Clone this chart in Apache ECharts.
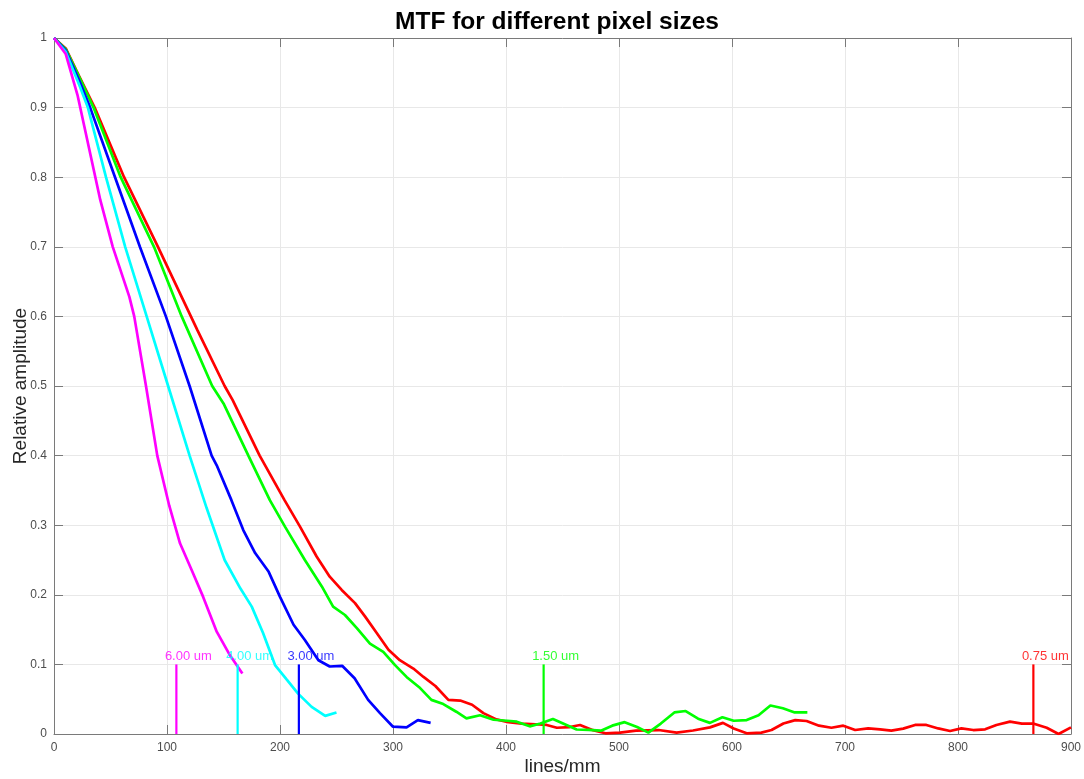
<!DOCTYPE html>
<html>
<head>
<meta charset="utf-8">
<script src="https://cdn.jsdelivr.net/npm/echarts@6/dist/echarts.min.js"></script>
<style>
html,body{margin:0;padding:0;background:#fff;}
#chart{width:1084px;height:779px;}
</style>
</head>
<body>
<div id="chart"></div>
<script>
// ---- data ----
const xTicks = [0,100,200,300,400,500,600,700,800,900];
const yTicks = [0,0.1,0.2,0.3,0.4,0.5,0.6,0.7,0.8,0.9,1];

const mtf600 = [[0,1],[10.4,0.977],[20.8,0.918],[41,0.767],[52,0.70],[66.7,0.628],[71,0.60],[81.4,0.50],[91.4,0.40],[102,0.328],[111.5,0.274],[122,0.235],[132,0.197],[144,0.147],[155,0.115],[166.7,0.087]];

const mtf400 = [[0,1],[10.4,0.98],[23,0.93],[30,0.90],[46,0.80],[63,0.70],[82,0.60],[101,0.50],[120,0.40],[135,0.325],[151,0.25],[165,0.209],[175,0.183],[185,0.145],[195.6,0.099],[206,0.078],[216,0.058],[228,0.039],[240,0.026],[250,0.031]];

const mtf300 = [[0,1],[10.4,0.982],[22,0.94],[32,0.90],[54,0.80],[76,0.70],[99,0.60],[120,0.50],[139.5,0.40],[144,0.386],[157,0.336],[167.5,0.293],[178,0.26],[190,0.233],[200,0.197],[212,0.157],[222,0.135],[234,0.106],[244,0.097],[255,0.098],[266,0.080],[278,0.049],[288.5,0.030],[300,0.0105],[312,0.0096],[322,0.020],[333.3,0.016]];

const mtf150 = [[0,1],[10.4,0.984],[22,0.945],[35,0.90],[59,0.80],[88.5,0.70],[113,0.60],[140,0.50],[150,0.475],[172,0.40],[191,0.336],[204.4,0.298],[222,0.25],[237,0.212],[247,0.183],[257.5,0.171],[268,0.152],[279.6,0.130],[291.4,0.118],[301.8,0.099],[312,0.082],[324,0.066],[334,0.049],[344.5,0.043],[356,0.032],[365,0.0225],[377,0.027],[389,0.0205],[401,0.019],[409.5,0.0177],[421,0.011],[430.5,0.015],[441.5,0.0215],[452,0.014],[462.5,0.0065],[473,0.006],[484,0.0048],[494,0.012],[505,0.017],[516,0.01],[526,0.002],[537,0.015],[549,0.031],[559,0.033],[570,0.022],[580.5,0.016],[591.5,0.024],[601.5,0.019],[613,0.020],[623.5,0.027],[634,0.041],[645,0.037],[655.5,0.031],[666.7,0.031]];

const mtf075 = [[0,1],[10.4,0.985],[22,0.946],[36,0.90],[62,0.80],[92,0.70],[127,0.58],[151,0.50],[158,0.48],[182,0.40],[204,0.336],[217.7,0.298],[232.4,0.255],[244,0.226],[254.6,0.207],[266.4,0.188],[275.2,0.169],[285.6,0.145],[296,0.121],[306,0.106],[318,0.094],[327,0.082],[337.5,0.069],[349,0.049],[359.5,0.048],[370,0.042],[380,0.030],[391.5,0.021],[402,0.017],[414,0.015],[426,0.014],[436,0.013],[445,0.009],[456.5,0.010],[465.5,0.013],[477,0.0055],[488,0.001],[501,0.002],[515,0.0048],[535,0.0057],[551,0.002],[565.5,0.005],[580.5,0.0095],[592,0.016],[601.5,0.008],[613,0.001],[626,0.002],[635,0.0057],[645.5,0.015],[656,0.020],[666,0.0187],[677,0.012],[688,0.009],[698.5,0.012],[709,0.0057],[720.5,0.008],[731,0.0067],[741,0.0048],[751.5,0.0077],[762,0.013],[772,0.013],[782.5,0.008],[793,0.0043],[803,0.008],[813.5,0.0057],[824,0.0067],[834,0.013],[846,0.0177],[856.5,0.015],[866.5,0.015],[878.5,0.009],[889,0],[900,0.0096]];

const seriesNames = ['0.75 um','1.50 um','3.00 um','4.00 um','6.00 um'];
const seriesColors = ['#ff0000','#00ff00','#0000ff','#00ffff','#ff00ff'];
const seriesData = [mtf075, mtf150, mtf300, mtf400, mtf600];

const markerX = [866.7, 433.3, 216.7, 162.5, 108.3];
const markerLabels = ['0.75 um','1.50 um','3.00 um','4.00 um','6.00 um'];
const markerTop = 0.1;

// ---- chart ----
const chart = echarts.init(document.getElementById('chart'), null, {renderer:'canvas'});
const FONT = '"Liberation Sans", Arial, Helvetica, sans-serif';
const axisCol = '#7a7a7a';
const gridCol = '#e8e8e8';
const labelCol = '#4d4d4d';

const series = [];
seriesData.forEach((d, i) => {
  series.push({
    name: seriesNames[i], type: 'line', data: d, showSymbol: false, symbol: 'none',
    lineStyle: {color: seriesColors[i], width: 2.7}, itemStyle:{color: seriesColors[i]},
    z: 3 + i, animation: false, clip: true
  });
});
markerX.forEach((mx, i) => {
  series.push({
    name: 'marker ' + markerLabels[i], type: 'line', showSymbol: false, symbol: 'none',
    data: [[mx, 0], [mx, markerTop]],
    lineStyle: {color: seriesColors[i], width: 2.2}, z: 10, animation: false
  });
  series.push({
    name: 'label ' + markerLabels[i], type: 'scatter',
    data: [[mx, markerTop]], symbol: 'circle', symbolSize: 1,
    itemStyle: {color: 'rgba(255,255,255,0)'},
    label: {
      show: true, position: 'top', distance: 1, offset: [12, 0],
      formatter: markerLabels[i], color: seriesColors[i], fontSize: 13, fontFamily: FONT
    },
    z: 11, animation: false, silent: true
  });
});

chart.setOption({
  animation: false,
  backgroundColor: '#ffffff',
  title: {
    text: 'MTF for different pixel sizes', left: 552, textAlign: 'center', top: 5,
    textStyle: {fontFamily: FONT, fontWeight: 'bold', fontSize: 24.5, color: '#000'}
  },
  grid: {left: 54, right: 13, top: 38, bottom: 45, containLabel: false, outerBoundsMode: 'none'},
  xAxis: [{
    type: 'value', min: 0, max: 900, interval: 100, position: 'bottom',
    name: 'lines/mm', nameLocation: 'middle', nameGap: 23, nameMoveOverlap: false,
    nameTextStyle: {fontFamily: FONT, fontSize: 19, color: '#262626'},
    axisLine: {show: true, onZero: false, lineStyle: {color: axisCol, width: 1}},
    axisTick: {show: true, inside: true, length: 9, lineStyle: {color: axisCol}},
    axisLabel: {fontFamily: FONT, fontSize: 12, color: labelCol, margin: 8,
      formatter: v => xTicks.includes(v) ? String(v) : ''},
    splitLine: {show: true, lineStyle: {color: gridCol, width: 1}}
  }, {
    type: 'value', min: 0, max: 900, interval: 100, position: 'top',
    axisLine: {show: true, onZero: false, lineStyle: {color: axisCol, width: 1}},
    axisTick: {show: true, inside: true, length: 9, lineStyle: {color: axisCol}},
    axisLabel: {show: false}, splitLine: {show: false}
  }],
  yAxis: [{
    type: 'value', min: 0, max: 1, interval: 0.1, position: 'left',
    name: 'Relative amplitude', nameLocation: 'middle', nameGap: 24, nameRotate: 90, nameMoveOverlap: false,
    nameTextStyle: {fontFamily: FONT, fontSize: 19, color: '#262626'},
    axisLine: {show: true, onZero: false, lineStyle: {color: axisCol, width: 1}},
    axisTick: {show: true, inside: true, length: 9, lineStyle: {color: axisCol}},
    axisLabel: {fontFamily: FONT, fontSize: 12, color: labelCol, margin: 7,
      formatter: v => { const t = yTicks.find(k => Math.abs(k - v) < 1e-9); return t === undefined ? '' : String(t); }},
    splitLine: {show: true, lineStyle: {color: gridCol, width: 1}}
  }, {
    type: 'value', min: 0, max: 1, interval: 0.1, position: 'right',
    axisLine: {show: true, onZero: false, lineStyle: {color: axisCol, width: 1}},
    axisTick: {show: true, inside: true, length: 9, lineStyle: {color: axisCol}},
    axisLabel: {show: false}, splitLine: {show: false}
  }],
  series: series
});
</script>
</body>
</html>
